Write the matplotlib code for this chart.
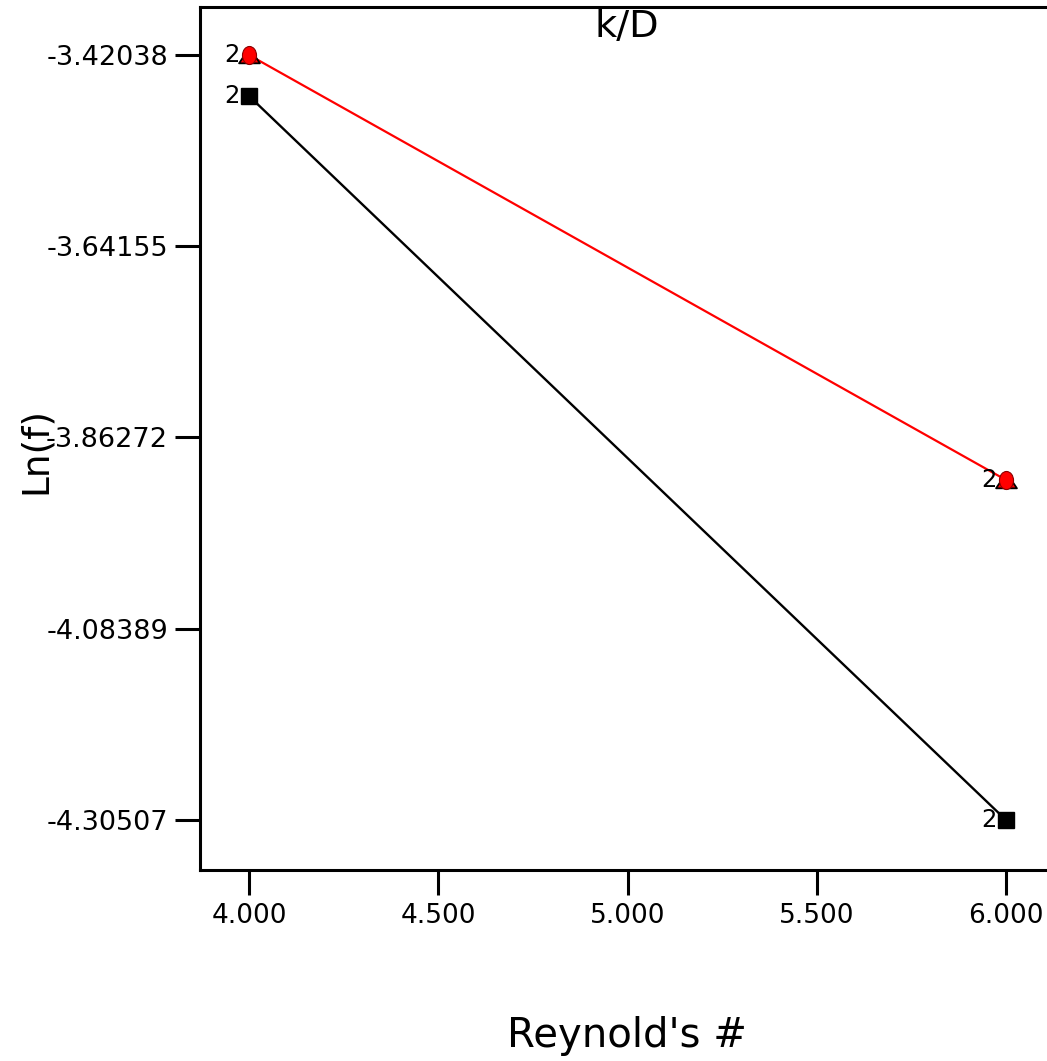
import matplotlib
matplotlib.use("Agg")
import matplotlib.pyplot as plt
from matplotlib.path import Path
from matplotlib.transforms import Affine2D

# ---- data ----
reynolds = [4.0, 6.0]
lnf_low = [-3.46780, -4.30507]     # black squares
lnf_high = [-3.42038, -3.91188]    # red triangles / circles
replicates_low = ["2", "2"]
replicates_high = ["2", "2"]
x_ticks = [4.0, 4.5, 5.0, 5.5, 6.0]
y_ticks = [-3.42038, -3.64155, -3.86272, -4.08389, -4.30507]
y_tick_labels = ["-3.42038", "-3.64155", "-3.86272", "-4.08389", "-4.30507"]
title = "k/D"
xlabel = "Reynold's #"
ylabel = "Ln(f)"

plt.rcParams['font.family'] = ['DejaVu Sans']

W, H = 1047, 1061
fig = plt.figure(figsize=(W / 100, H / 100), dpi=100)
ax = fig.add_axes([200 / W, (H - 870) / H, 854 / W, 863 / H])

ax.set_xlim(3.8705, 6.1268)
ax.set_ylim(-4.36289, -3.36487)

# custom markers
tri = Path([(-1.0, -0.75), (1.0, -0.75), (0.0, 0.75), (-1.0, -0.75)],
           [Path.MOVETO, Path.LINETO, Path.LINETO, Path.CLOSEPOLY])
ell = Affine2D().scale(0.78, 1.0).transform_path(Path.unit_circle())

ax.plot(reynolds, lnf_low, color='black', lw=1.7, marker='s', ms=12,
        mfc='black', mec='black', zorder=3)
ax.plot(reynolds, lnf_high, color='red', lw=1.6, zorder=3)
ax.plot(reynolds, lnf_high, ls='none', marker=tri, ms=15, mfc='red',
        mec='black', mew=1.3, zorder=4)
ax.plot(reynolds, lnf_high, ls='none', marker=ell, ms=13, mfc='red',
        mec='#8b0000', mew=0.8, zorder=5)

for xv, yv, t in zip(reynolds, lnf_low, replicates_low):
    ax.annotate(t, (xv, yv), xytext=(-6.5, 0), textcoords='offset points',
                ha='right', va='center', fontsize=17.5, zorder=6)
for xv, yv, t in zip(reynolds, lnf_high, replicates_high):
    ax.annotate(t, (xv, yv), xytext=(-6.5, 0), textcoords='offset points',
                ha='right', va='center', fontsize=17.5, zorder=6)

ax.set_xticks(x_ticks)
ax.set_xticklabels([f"{v:.3f}" for v in x_ticks])
ax.set_yticks(y_ticks)
ax.set_yticklabels(y_tick_labels)

for s in ax.spines.values():
    s.set_linewidth(2.2)
ax.tick_params(axis='both', direction='out', length=18, width=2.2,
               colors='black')
ax.tick_params(axis='x', pad=6, labelsize=19)
ax.tick_params(axis='y', pad=5, labelsize=19.5)

ax.text(0.5, 1 - 20 / 863, title, transform=ax.transAxes, ha='center',
        va='center', fontsize=27.5)

fig.text(627 / W, (H - 1036) / H, xlabel, ha='center', va='center',
         fontsize=29)
fig.text(36 / W, (H - 450) / H, ylabel, ha='center', va='center',
         fontsize=27, rotation=90)

fig.savefig("out.png", dpi=100)
